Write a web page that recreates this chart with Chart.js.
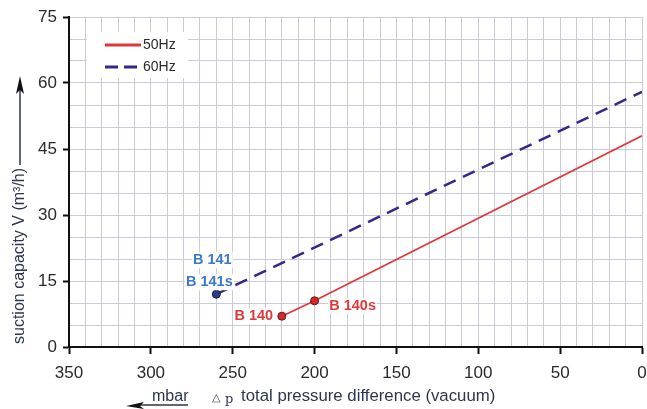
<!DOCTYPE html>
<html>
<head>
<meta charset="utf-8">
<script src="https://cdn.jsdelivr.net/npm/chart.js@4/dist/chart.umd.min.js"></script>
<style>
  html, body { margin: 0; padding: 0; background: #fff; }
  #wrap { width: 647px; height: 409px; position: relative; }
</style>
</head>
<body>
<div id="wrap"><canvas id="chart"></canvas></div>
<script>
// pressure difference (mbar) and suction capacity (m3/h)
var hz50X = [220, 200, 0];
var hz50Y = [7, 10.5, 48];
var hz60X = [260, 0];
var hz60Y = [12, 58];

var seriesNames = ['50Hz', '60Hz'];
var xTicks = [350, 300, 250, 200, 150, 100, 50, 0];
var yTicks = [0, 15, 30, 45, 60, 75];

// model labels: text, anchor point (x, y), series
var pointLabels = [
  { text: 'B 141', x: 260, y: 12, series: 1 },
  { text: 'B 141s', x: 260, y: 12, series: 1 },
  { text: 'B 140', x: 220, y: 7, series: 0 },
  { text: 'B 140s', x: 200, y: 10.5, series: 0 }
];

var red = '#e0383a';
var navy = '#3b2488';
var labelBlue = '#3a78c8';
var labelRed = '#e0383a';
var gridColor = '#c9ccd8';
var textColor = '#2a2a2a';
var font = '"Liberation Sans", Arial, sans-serif';

function toPoints(xs, ys) {
  return xs.map(function (x, i) { return { x: x, y: ys[i] }; });
}

var overlay = {
  id: 'overlay',
  afterDatasetsDraw: function (chart) {
    var c = chart.ctx;
    var xs = chart.scales.x;
    var ys = chart.scales.y;

    // legend box
    c.save();
    c.fillStyle = '#fff';
    c.fillRect(87, 32, 101, 46);
    c.lineWidth = 3;
    c.strokeStyle = red;
    c.beginPath(); c.moveTo(105, 45); c.lineTo(141, 45); c.stroke();
    c.strokeStyle = navy;
    c.setLineDash([13, 6]);
    c.beginPath(); c.moveTo(105, 67); c.lineTo(138, 67); c.stroke();
    c.setLineDash([]);
    c.fillStyle = textColor;
    c.font = '14px ' + font;
    c.textBaseline = 'middle';
    c.fillText(seriesNames[0], 143, 45);
    c.fillText(seriesNames[1], 143, 67);

    // point labels
    var offsets = [[-4, -34], [-7, -12], [-28, 0], [38, 5]];
    c.font = 'bold 14.5px ' + font;
    c.textAlign = 'center';
    pointLabels.forEach(function (lab, i) {
      var px = xs.getPixelForValue(lab.x) + offsets[i][0];
      var py = ys.getPixelForValue(lab.y) + offsets[i][1];
      var w = c.measureText(lab.text).width;
      c.fillStyle = '#fff';
      c.fillRect(px - w / 2 - 1, py - 8, w + 2, 16);
      c.fillStyle = lab.series === 1 ? labelBlue : labelRed;
      c.fillText(lab.text, px, py);
    });
    c.restore();
  },
  afterDraw: function (chart) {
    var c = chart.ctx;
    c.save();

    // y axis title with arrow
    c.translate(20, 344);
    c.rotate(-Math.PI / 2);
    c.fillStyle = '#2e3550';
    c.font = '16px ' + font;
    c.textBaseline = 'middle';
    c.textAlign = 'left';
    var t = 'suction capacity V (m\u00b3/h)';
    c.fillText(t, 0, 0);
    var tw = c.measureText(t).width;
    c.strokeStyle = '#2e3550';
    c.lineWidth = 1.5;
    c.beginPath(); c.moveTo(tw + 3, 0); c.lineTo(256, 0); c.stroke();
    c.fillStyle = '#111';
    c.beginPath(); c.moveTo(268, 0); c.lineTo(250, -4); c.lineTo(254, 0); c.lineTo(250, 4); c.closePath(); c.fill();
    c.restore();

    // x axis titles
    c.save();
    c.fillStyle = '#2e3550';
    c.font = '16px ' + font;
    c.textBaseline = 'alphabetic';
    c.fillText('mbar', 152, 401);
    c.strokeStyle = '#2e3550';
    c.lineWidth = 1.5;
    c.beginPath(); c.moveTo(138, 405); c.lineTo(188, 405); c.stroke();
    c.fillStyle = '#111';
    c.beginPath(); c.moveTo(126, 406); c.lineTo(144, 402); c.lineTo(140, 406); c.lineTo(144, 409); c.closePath(); c.fill();
    c.fillStyle = '#2e3550';
    c.font = '11px ' + font;
    c.fillText('\u25b3', 212, 401);
    c.font = '13px "DejaVu Serif", serif';
    c.fillText('p', 225, 403);
    c.font = '16.8px ' + font;
    c.fillText('total pressure difference (vacuum)', 241, 401);
    c.restore();
  }
};

new Chart(document.getElementById('chart'), {
  type: 'line',
  data: {
    datasets: [{
      label: seriesNames[0],
      data: toPoints(hz50X, hz50Y),
      borderColor: red,
      borderWidth: 1.8,
      pointRadius: [4, 4, 0],
      pointBackgroundColor: '#d8262a',
      pointBorderColor: '#5a1a1a',
      pointBorderWidth: 1,
      tension: 0
    }, {
      label: seriesNames[1],
      data: toPoints(hz60X, hz60Y),
      borderColor: navy,
      borderWidth: 2.5,
      borderDash: [13, 8],
      pointRadius: [4, 0],
      pointBackgroundColor: '#2a3a8c',
      pointBorderColor: '#1a1a3a',
      pointBorderWidth: 1,
      tension: 0
    }]
  },
  options: {
    responsive: true,
    maintainAspectRatio: false,
    animation: false,
    layout: { padding: { top: 17, right: 4, left: 0, bottom: 0 } },
    plugins: { legend: { display: false }, tooltip: { enabled: false } },
    scales: {
      x: {
        type: 'linear',
        reverse: true,
        min: 0,
        max: 350,
        afterFit: function (s) { s.height = 62; },
        afterBuildTicks: function (s) {
          var t = [];
          for (var v = 0; v <= 350; v += 10) t.push({ value: v });
          s.ticks = t;
        },
        grid: {
          color: function (ctx) { return ctx.tick && ctx.tick.value === 350 ? 'transparent' : gridColor; },
          lineWidth: 1,
          tickLength: 7,
          tickColor: function (ctx) { return xTicks.indexOf(ctx.tick.value) >= 0 ? '#111' : 'transparent'; },
          tickWidth: 2
        },
        border: { color: '#111', width: 2 },
        ticks: {
          color: textColor,
          font: { size: 17, family: font },
          padding: 9,
          maxRotation: 0,
          autoSkip: false,
          callback: function (v) { return xTicks.indexOf(v) >= 0 ? String(v) : ''; }
        }
      },
      y: {
        min: 0,
        max: 75,
        afterFit: function (s) { s.width = 69; },
        afterBuildTicks: function (s) {
          var t = [];
          for (var v = 0; v <= 75; v += 5) t.push({ value: v });
          s.ticks = t;
        },
        grid: {
          color: function (ctx) { return ctx.tick && ctx.tick.value === 0 ? 'transparent' : gridColor; },
          lineWidth: 1,
          tickLength: 6,
          tickColor: function (ctx) { return yTicks.indexOf(ctx.tick.value) >= 0 ? '#111' : 'transparent'; },
          tickWidth: 2
        },
        border: { color: '#111', width: 2 },
        ticks: {
          color: textColor,
          font: { size: 17, family: font },
          padding: 6,
          autoSkip: false,
          callback: function (v) { return yTicks.indexOf(v) >= 0 ? String(v) : ''; }
        }
      }
    }
  },
  plugins: [overlay]
});
</script>
</body>
</html>
